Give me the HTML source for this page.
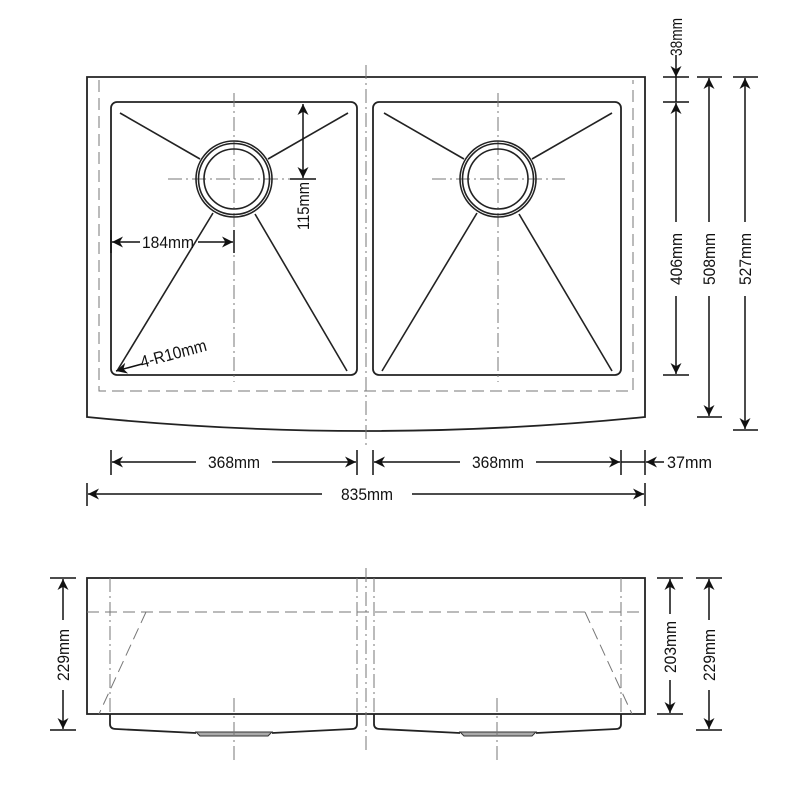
<!DOCTYPE html>
<html><head><meta charset="utf-8"><style>
html,body{margin:0;padding:0;background:#fff}
svg{display:block}
text{font-family:"Liberation Sans",sans-serif;font-size:17px;fill:#111}
</style></head><body>
<svg width="800" height="800" viewBox="0 0 800 800" xmlns="http://www.w3.org/2000/svg">
<defs>
<marker id="a" viewBox="0 0 10 10" refX="10" refY="5" markerWidth="12" markerHeight="11" orient="auto-start-reverse" markerUnits="userSpaceOnUse"><path d="M0,0 L10,5 L0,10 L3,5 z" fill="#111"/></marker>
</defs>
<g stroke="#222" fill="none" stroke-width="1.8">
<path d="M87,77 L645,77 L645,417 Q366,445 87,417 Z"/>
<rect x="111" y="102" width="246" height="273" rx="6"/>
<rect x="373" y="102" width="248" height="273" rx="6"/>
</g>
<g stroke="#777" fill="none" stroke-width="1" stroke-dasharray="12,6">
<path d="M99,80 L99,391 L633,391 L633,80"/>
</g>
<g stroke="#777" fill="none" stroke-width="1" stroke-dasharray="14,4,2,4">
<line x1="366" y1="65" x2="366" y2="445"/>
<line x1="234" y1="93" x2="234" y2="382"/>
<line x1="498" y1="93" x2="498" y2="382"/>
<line x1="168" y1="179" x2="315" y2="179"/>
<line x1="432" y1="179" x2="565" y2="179"/>
</g>
<g stroke="#222" fill="none" stroke-width="1.6">
<circle cx="234" cy="179" r="38"/><circle cx="234" cy="179" r="35.5"/><circle cx="234" cy="179" r="30"/>
<circle cx="498" cy="179" r="38"/><circle cx="498" cy="179" r="35.5"/><circle cx="498" cy="179" r="30"/>
<line x1="120" y1="113" x2="200" y2="159"/><line x1="348" y1="113" x2="268" y2="159"/>
<line x1="117" y1="371" x2="213" y2="213"/><line x1="347" y1="371" x2="255" y2="214"/>
<line x1="384" y1="113" x2="464" y2="159"/><line x1="612" y1="113" x2="532" y2="159"/>
<line x1="612" y1="371" x2="519" y2="214"/><line x1="382" y1="371" x2="477" y2="213"/>
</g>
<g stroke="#111" fill="none" stroke-width="1.5">
<line x1="303" y1="104" x2="303" y2="178" marker-start="url(#a)" marker-end="url(#a)"/>
<line x1="290" y1="179" x2="316" y2="179"/>
<line x1="112" y1="242" x2="140" y2="242" marker-start="url(#a)"/>
<line x1="198" y1="242" x2="233" y2="242" marker-end="url(#a)"/>
<line x1="234" y1="230" x2="234" y2="253"/>
<line x1="111" y1="230" x2="111" y2="253"/>
<line x1="142" y1="364" x2="116" y2="371" marker-end="url(#a)"/>
<line x1="663" y1="77" x2="689" y2="77"/><line x1="663" y1="102" x2="689" y2="102"/><line x1="663" y1="375" x2="689" y2="375"/>
<line x1="676" y1="55" x2="676" y2="77" marker-end="url(#a)"/>
<line x1="676" y1="77" x2="676" y2="102"/>
<line x1="676" y1="103" x2="676" y2="222" marker-start="url(#a)"/>
<line x1="676" y1="296" x2="676" y2="374" marker-end="url(#a)"/>
<line x1="697" y1="77" x2="722" y2="77"/><line x1="697" y1="417" x2="722" y2="417"/>
<line x1="709" y1="78" x2="709" y2="222" marker-start="url(#a)"/>
<line x1="709" y1="296" x2="709" y2="416" marker-end="url(#a)"/>
<line x1="733" y1="77" x2="758" y2="77"/><line x1="733" y1="430" x2="758" y2="430"/>
<line x1="745" y1="78" x2="745" y2="222" marker-start="url(#a)"/>
<line x1="745" y1="296" x2="745" y2="429" marker-end="url(#a)"/>
<line x1="111" y1="450" x2="111" y2="475"/><line x1="357" y1="450" x2="357" y2="475"/>
<line x1="373" y1="450" x2="373" y2="475"/><line x1="621" y1="450" x2="621" y2="475"/>
<line x1="645" y1="450" x2="645" y2="475"/>
<line x1="112" y1="462" x2="196" y2="462" marker-start="url(#a)"/>
<line x1="272" y1="462" x2="356" y2="462" marker-end="url(#a)"/>
<line x1="374" y1="462" x2="460" y2="462" marker-start="url(#a)"/>
<line x1="536" y1="462" x2="620" y2="462" marker-end="url(#a)"/>
<line x1="621" y1="462" x2="645" y2="462"/>
<line x1="664" y1="462" x2="646" y2="462" marker-end="url(#a)"/>
<line x1="87" y1="483" x2="87" y2="506"/><line x1="645" y1="483" x2="645" y2="506"/>
<line x1="88" y1="494" x2="322" y2="494" marker-start="url(#a)"/>
<line x1="412" y1="494" x2="644" y2="494" marker-end="url(#a)"/>
</g>
<g stroke="#222" fill="none" stroke-width="1.8">
<rect x="87" y="578" width="558" height="136"/>
<path d="M110,714 L110,724 Q110,729 116,729 L196,733 M272,733 L352,729 Q357,729 357,724 L357,714"/>
<path d="M374,714 L374,724 Q374,729 380,729 L460,733 M536,733 L616,729 Q621,729 621,724 L621,714"/>
</g>
<g stroke="#333" fill="#aaa" stroke-width="1">
<path d="M196,732 L272,732 L268,736 L200,736 Z"/>
<path d="M460,732 L536,732 L532,736 L464,736 Z"/>
</g>
<g stroke="#777" fill="none" stroke-width="1" stroke-dasharray="12,6">
<line x1="87" y1="612" x2="645" y2="612"/>
<line x1="146" y1="612" x2="99" y2="714"/>
<line x1="585" y1="612" x2="632" y2="714"/>
</g>
<g stroke="#777" fill="none" stroke-width="1" stroke-dasharray="14,4,2,4">
<line x1="366" y1="568" x2="366" y2="750"/>
<line x1="110" y1="578" x2="110" y2="714"/><line x1="357" y1="578" x2="357" y2="714"/>
<line x1="374" y1="578" x2="374" y2="714"/><line x1="621" y1="578" x2="621" y2="714"/>
<line x1="234" y1="698" x2="234" y2="760"/><line x1="497" y1="698" x2="497" y2="760"/>
</g>
<g stroke="#111" fill="none" stroke-width="1.5">
<line x1="50" y1="578" x2="76" y2="578"/><line x1="50" y1="730" x2="76" y2="730"/>
<line x1="63" y1="579" x2="63" y2="620" marker-start="url(#a)"/>
<line x1="63" y1="690" x2="63" y2="729" marker-end="url(#a)"/>
<line x1="657" y1="578" x2="683" y2="578"/><line x1="657" y1="714" x2="683" y2="714"/>
<line x1="670" y1="579" x2="670" y2="614" marker-start="url(#a)"/>
<line x1="670" y1="680" x2="670" y2="713" marker-end="url(#a)"/>
<line x1="696" y1="578" x2="722" y2="578"/><line x1="696" y1="730" x2="722" y2="730"/>
<line x1="709" y1="579" x2="709" y2="620" marker-start="url(#a)"/>
<line x1="709" y1="690" x2="709" y2="729" marker-end="url(#a)"/>
</g>
<text x="142" y="248" textLength="52" lengthAdjust="spacingAndGlyphs">184mm</text>
<text transform="translate(309,206) rotate(-90)" text-anchor="middle" textLength="48" lengthAdjust="spacingAndGlyphs">115mm</text>
<text transform="translate(142,368) rotate(-15)" textLength="68" lengthAdjust="spacingAndGlyphs">4-R10mm</text>
<text transform="translate(682,37) rotate(-90)" text-anchor="middle" textLength="38" lengthAdjust="spacingAndGlyphs">38mm</text>
<text transform="translate(682,259) rotate(-90)" text-anchor="middle" textLength="52" lengthAdjust="spacingAndGlyphs">406mm</text>
<text transform="translate(715,259) rotate(-90)" text-anchor="middle" textLength="52" lengthAdjust="spacingAndGlyphs">508mm</text>
<text transform="translate(751,259) rotate(-90)" text-anchor="middle" textLength="52" lengthAdjust="spacingAndGlyphs">527mm</text>
<text x="208" y="468" textLength="52" lengthAdjust="spacingAndGlyphs">368mm</text>
<text x="472" y="468" textLength="52" lengthAdjust="spacingAndGlyphs">368mm</text>
<text x="667" y="468" textLength="45" lengthAdjust="spacingAndGlyphs">37mm</text>
<text x="341" y="500" textLength="52" lengthAdjust="spacingAndGlyphs">835mm</text>
<text transform="translate(69,655) rotate(-90)" text-anchor="middle" textLength="52" lengthAdjust="spacingAndGlyphs">229mm</text>
<text transform="translate(676,647) rotate(-90)" text-anchor="middle" textLength="52" lengthAdjust="spacingAndGlyphs">203mm</text>
<text transform="translate(715,655) rotate(-90)" text-anchor="middle" textLength="52" lengthAdjust="spacingAndGlyphs">229mm</text>
</svg>
</body></html>
